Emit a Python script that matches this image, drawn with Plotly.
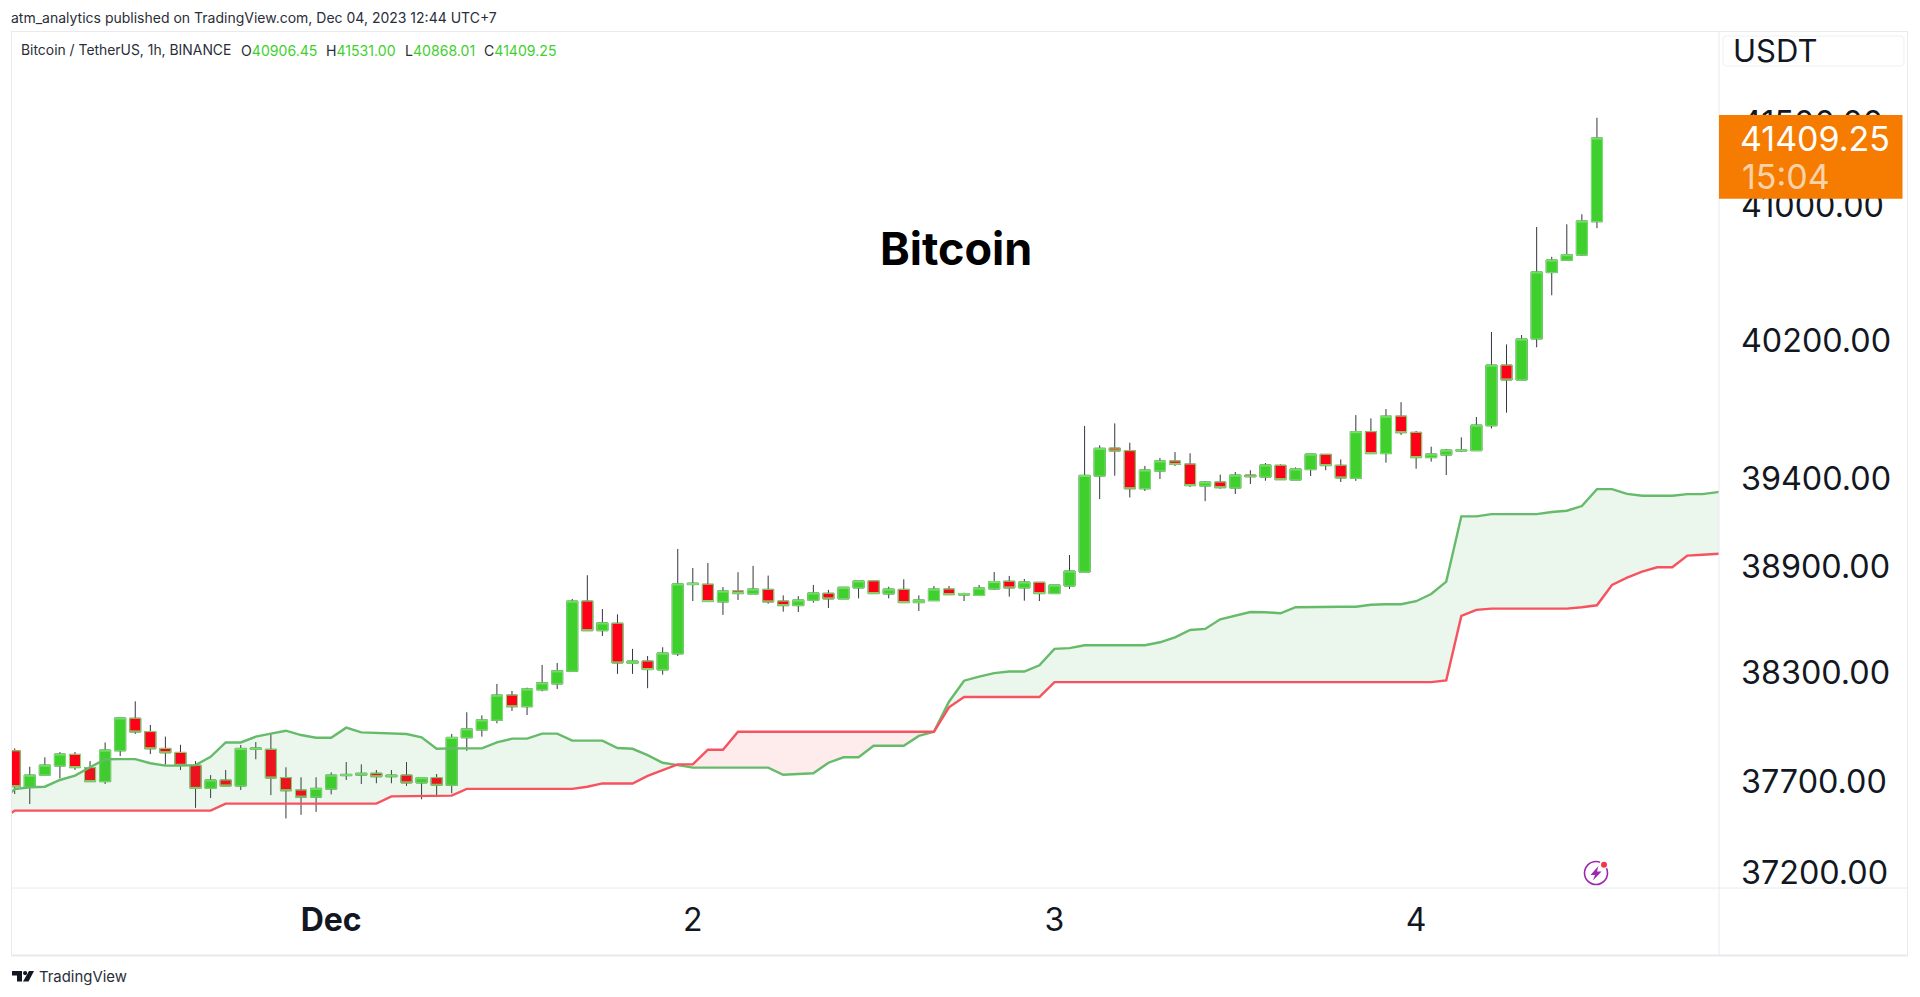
import numpy as np
import pandas as pd
import plotly.graph_objects as go

# ---------- data ----------
open_ = [37869,37668,37735,37785,37849,37776,37699,37869,38049,37975,37882,37860,37789,37662,37708,37675,37877,37877,37721,37653,
37614,37658,37732,37735,37745,37726,37735,37692,37721,37679,37941,37984,38038,38178,38113,38207,38240,38311,38705,38538,
38580,38355,38368,38318,38408,38798,38800,38700,38762,38745,38771,38705,38679,38709,38749,38717,38779,38819,38745,38771,
38696,38707,38773,38739,38737,38773,38817,38779,38811,38747,38790,38869,39417,39578,39563,39344,39446,39504,39486,39360,
39383,39348,39423,39411,39479,39394,39454,39542,39479,39404,39673,39546,39763,39669,39523,39538,39561,39563,39707,40060,
39973,40213,40604,40677,40708,40906.45]
high = [37882,37781,37833,37862,37862,37812,37915,38051,38143,38012,37947,37902,37812,37735,37763,37901,37917,37965,37778,37723,
37723,37750,37807,37794,37763,37763,37807,37723,37741,37962,38082,38065,38240,38201,38219,38346,38357,38717,38851,38660,
38630,38436,38396,38445,39000,38892,38920,38784,38868,38904,38849,38737,38733,38796,38768,38783,38819,38819,38786,38828,
38737,38790,38790,38752,38796,38869,38847,38830,38811,38796,38966,39706,39594,39721,39609,39475,39521,39555,39548,39388,
39425,39440,39450,39492,39484,39467,39544,39542,39513,39769,39750,39804,39844,39677,39586,39573,39640,39758,40254,40181,
40236,40875,40698,40891,40951,41531.00]
low = [37631,37576,37735,37717,37763,37699,37686,37840,37962,37851,37792,37763,37555,37609,37675,37653,37822,37625,37497,37517,
37533,37629,37708,37686,37690,37690,37675,37602,37614,37635,37869,37947,38021,38090,38067,38199,38212,38311,38538,38508,
38296,38296,38216,38292,38396,38705,38702,38627,38711,38745,38690,38645,38643,38696,38666,38717,38720,38747,38720,38696,
38649,38707,38741,38705,38734,38768,38730,38707,38705,38747,38773,38869,39285,39419,39294,39331,39400,39475,39354,39273,
39344,39314,39371,39390,39396,39394,39417,39450,39383,39389,39546,39494,39654,39459,39500,39423,39557,39563,39692,39783,
39973,40164,40470,40673,40704,40868.01]
close = [37671,37735,37790,37851,37776,37699,37873,38051,37973,37880,37858,37789,37662,37708,37675,37882,37884,37719,37649,37614,
37662,37735,37739,37745,37726,37735,37692,37721,37679,37943,37990,38040,38178,38113,38212,38246,38313,38705,38538,38582,
38357,38368,38320,38413,38802,38806,38702,38762,38747,38773,38700,38679,38711,38751,38717,38783,38819,38747,38773,38696,
38711,38773,38741,38747,38779,38815,38779,38813,38747,38796,38875,39421,39577,39561,39344,39452,39504,39484,39362,39383,
39350,39423,39413,39481,39396,39458,39544,39477,39406,39673,39546,39763,39667,39523,39544,39567,39567,39711,40060,39973,
40213,40608,40679,40710,40911,41409.25]
span_a = [37580,37658,37668,37671,37708,37732,37778,37822,37823,37823,37800,37787,37787,37790,37836,37915,37915,37947,37964,37980,
37956,37941,37941,37997,37971,37967,37967,37962,37943,37880,37882,37882,37882,37915,37936,37936,37964,37964,37925,37925,
37925,37884,37880,37845,37803,37790,37776,37776,37776,37776,37776,37776,37737,37741,37745,37803,37833,37833,37897,37897,
37897,37951,37974,38141,38258,38281,38300,38309,38309,38344,38436,38440,38456,38456,38456,38456,38456,38473,38501,38542,
38548,38602,38623,38643,38642,38636,38670,38672,38673,38673,38673,38684,38687,38687,38704,38745,38815,39186,39186,39199,
39199,39199,39199,39211,39218,39245,39342,39342,39315,39304,39304,39304,39313,39313,39325,39340]
span_b = [37479,37540,37540,37540,37540,37540,37540,37540,37540,37540,37540,37540,37540,37540,37540,37578,37578,37578,37578,37578,
37578,37578,37578,37578,37578,37578,37618,37618,37618,37618,37622,37659,37659,37659,37659,37659,37659,37659,37659,37671,
37689,37689,37689,37731,37764,37794,37794,37875,37875,37974,37974,37974,37974,37974,37974,37974,37974,37974,37974,37974,
37974,37974,37974,38110,38167,38167,38167,38167,38167,38167,38250,38250,38250,38250,38250,38250,38250,38250,38250,38250,
38250,38250,38250,38250,38250,38250,38250,38250,38250,38250,38250,38250,38250,38250,38250,38250,38260,38621,38655,38662,
38662,38662,38662,38662,38662,38670,38681,38796,38837,38871,38896,38896,38962,38967,38971,38977]
price_ticks = [37200, 37700, 38300, 38900, 39400, 40200, 41000, 41500]
price_labels = ["37200.00", "37700.00", "38300.00", "38900.00", "39400.00", "40200.00", "41000.00", "41500.00"]
day_ticks = ["2023-12-01 00:00", "2023-12-02 00:00", "2023-12-03 00:00", "2023-12-04 00:00"]
day_labels = ["<b>Dec</b>", "2", "3", "4"]

# ---------- geometry of the page ----------
W, H = 1920, 997
L, R, T, B = 12, 1719, 32, 888
def px(x): return (x - L) / (R - L)
def py(y): return (B - y) / (B - T)

times = pd.date_range("2023-11-30 02:00", periods=len(span_a), freq="h")
bars = times[1:len(open_) + 1]
x0 = bars[0] + pd.Timedelta(hours=-0.18)
x1 = bars[0] + pd.Timedelta(hours=113.1)

GREEN_FILL = "rgba(76,175,80,0.11)"
RED_FILL = "rgba(242,54,69,0.10)"
fig = go.Figure()

# cloud fill, split where the two spans cross
for s, e, col in [(0, 46, GREEN_FILL), (45, 63, RED_FILL), (62, len(span_a), GREEN_FILL)]:
    fig.add_trace(go.Scatter(x=times[s:e], y=span_b[s:e], mode="lines", line=dict(width=0),
                             hoverinfo="skip", showlegend=False))
    fig.add_trace(go.Scatter(x=times[s:e], y=span_a[s:e], mode="lines", line=dict(width=0),
                             fill="tonexty", fillcolor=col, hoverinfo="skip", showlegend=False))
fig.add_trace(go.Scatter(x=times, y=span_a, mode="lines", line=dict(color="#66bb6a", width=2.4),
                         hoverinfo="skip", showlegend=False))
fig.add_trace(go.Scatter(x=times, y=span_b, mode="lines", line=dict(color="#f7525f", width=2.4),
                         hoverinfo="skip", showlegend=False))

# wicks
WICK = "#33363f"
fig.add_trace(go.Candlestick(x=bars, open=open_, high=high, low=low, close=close, whiskerwidth=0,
                             increasing=dict(line=dict(color=WICK, width=1), fillcolor=WICK),
                             decreasing=dict(line=dict(color=WICK, width=1), fillcolor=WICK),
                             hoverinfo="skip", showlegend=False))
# bodies
top = np.maximum(open_, close)
bot = np.minimum(open_, close)
fig.add_trace(go.Candlestick(x=bars, open=open_, high=top, low=bot, close=close, whiskerwidth=0,
                             increasing=dict(line=dict(color="#7fe572", width=1), fillcolor="#3fd02e"),
                             decreasing=dict(line=dict(color="#7fe572", width=1), fillcolor="#ff0018"),
                             hoverinfo="skip", showlegend=False))

FONT = "Inter"
INK = "#131722"
def rect(x0_, y0_, x1_, y1_, **kw):
    return dict(type="rect", xref="paper", yref="paper", x0=px(x0_), x1=px(x1_), y0=py(y0_), y1=py(y1_), **kw)
def vline(x, y0_, y1_, c="#e9eaef", w=1):
    return dict(type="line", xref="paper", yref="paper", x0=px(x), x1=px(x), y0=py(y0_), y1=py(y1_), line=dict(color=c, width=w))
def hline(y, x0_, x1_, c="#e9eaef", w=1):
    return dict(type="line", xref="paper", yref="paper", x0=px(x0_), x1=px(x1_), y0=py(y), y1=py(y), line=dict(color=c, width=w))
def path(points, fill, close_=True):
    d = "M" + " L".join(f"{px(a):.6f},{py(b):.6f}" for a, b in points) + (" Z" if close_ else "")
    return dict(type="path", xref="paper", yref="paper", path=d, fillcolor=fill, line=dict(width=0))

shapes = [
    hline(31.5, 11, 1908), hline(955.5, 11, 1908, w=2), vline(11.5, 31, 956), vline(1907.5, 31, 956),
    vline(1719, 31, 956), hline(888, 11, 1908),
    rect(1719, 115, 1902.5, 198.7, fillcolor="#f57c00", line=dict(width=0), layer="above"),
    # unit box
    dict(type="path", xref="paper", yref="paper", layer="above", line=dict(color="#eef0f3", width=1), fillcolor="white",
         path=(f"M{px(1727):.6f},{py(36):.6f} L{px(1900):.6f},{py(36):.6f} Q{px(1904):.6f},{py(36):.6f} {px(1904):.6f},{py(40):.6f} "
               f"L{px(1904):.6f},{py(62):.6f} Q{px(1904):.6f},{py(66):.6f} {px(1900):.6f},{py(66):.6f} "
               f"L{px(1727):.6f},{py(66):.6f} Q{px(1723):.6f},{py(66):.6f} {px(1723):.6f},{py(62):.6f} "
               f"L{px(1723):.6f},{py(40):.6f} Q{px(1723):.6f},{py(36):.6f} {px(1727):.6f},{py(36):.6f} Z")),
    # bolt icon
    dict(type="circle", xref="paper", yref="paper", x0=px(1584.5), x1=px(1607.5), y0=py(861.5), y1=py(884.5),
         line=dict(color="#9c27b0", width=1.6), fillcolor="rgba(0,0,0,0)"),
    path([(1598.5, 866), (1590.5, 875), (1595, 875), (1593, 880.5), (1601.5, 871.5), (1597, 871.5)], "#9c27b0"),
    dict(type="circle", xref="paper", yref="paper", x0=px(1599.5), x1=px(1608.5), y0=py(860), y1=py(869),
         line=dict(width=0), fillcolor="white"),
    dict(type="circle", xref="paper", yref="paper", x0=px(1601), x1=px(1607), y0=py(861.7), y1=py(867.7),
         line=dict(width=0), fillcolor="#f23645"),
    # TradingView logo
    path([(12, 971), (22, 971), (22, 981.5), (17, 981.5), (17, 975.5), (12, 975.5)], "#131722"),
    dict(type="circle", xref="paper", yref="paper", x0=px(23), x1=px(27.2), y0=py(971), y1=py(975.2),
         line=dict(width=0), fillcolor="#131722"),
    path([(29, 971), (34, 971), (28.5, 981.5), (23, 981.5)], "#131722"),
]

def note(text, x, y, size, color=INK, anchor="left", bold=False):
    return dict(text=f"<b>{text}</b>" if bold else text, xref="paper", yref="paper", x=px(x), y=py(y), xanchor=anchor,
                yanchor="middle", showarrow=False, font=dict(family=FONT, size=size, color=color),
                borderpad=0, borderwidth=0)

LEG = "#3fd02e"
annotations = [
    note("atm_analytics published on TradingView.com, Dec 04, 2023 12:44 UTC+7", 11, 18, 14, "#2a2e39"),
    note("Bitcoin / TetherUS, 1h, BINANCE", 21, 50, 13.9, "#2a2e39"),
    note(f'O<span style="color:{LEG}">40906.45</span>', 240.5, 50, 14.1, "#2a2e39"),
    note(f'H<span style="color:{LEG}">41531.00</span>', 325.5, 50, 14.1, "#2a2e39"),
    note(f'L<span style="color:{LEG}">40868.01</span>', 404.5, 50, 14.1, "#2a2e39"),
    note(f'C<span style="color:{LEG}">41409.25</span>', 483.5, 50, 14.1, "#2a2e39"),
    note("Bitcoin", 956, 248, 45, "#000000", "center", True),
    note("USDT", 1733, 50, 31),
    note("41409.25", 1740, 138, 34, "#ffffff"),
    note("15:04", 1742, 176.5, 34, "rgba(255,255,255,0.68)"),
    note("TradingView", 39, 977, 14.9, "#2a2e39"),
]

fig.update_layout(
    width=W, height=H, margin=dict(l=L, r=W - R, t=T, b=H - B, pad=0),
    paper_bgcolor="white", plot_bgcolor="white", showlegend=False,
    boxgap=0.27, boxgroupgap=0, boxmode="overlay",
    xaxis=dict(type="date", range=[x0, x1], rangeslider=dict(visible=False), showgrid=False, zeroline=False,
               tickmode="array", tickvals=day_ticks, ticktext=day_labels, ticks="", showline=False,
               tickfont=dict(family=FONT, size=32, color=INK), ticklabelstandoff=10),
    yaxis=dict(type="log", side="right", range=[np.log10(37118.7), np.log10(42054)], showgrid=False, zeroline=False,
               tickmode="array", tickvals=price_ticks, ticktext=price_labels, ticks="", showline=False,
               tickfont=dict(family=FONT, size=32.3, color=INK), ticklabelstandoff=21),
    shapes=shapes, annotations=annotations, hovermode=False,
)

fig.write_html("out.html", config={"displayModeBar": False},
               post_script="document.body.style.margin='0';document.documentElement.style.overflow='hidden';")
